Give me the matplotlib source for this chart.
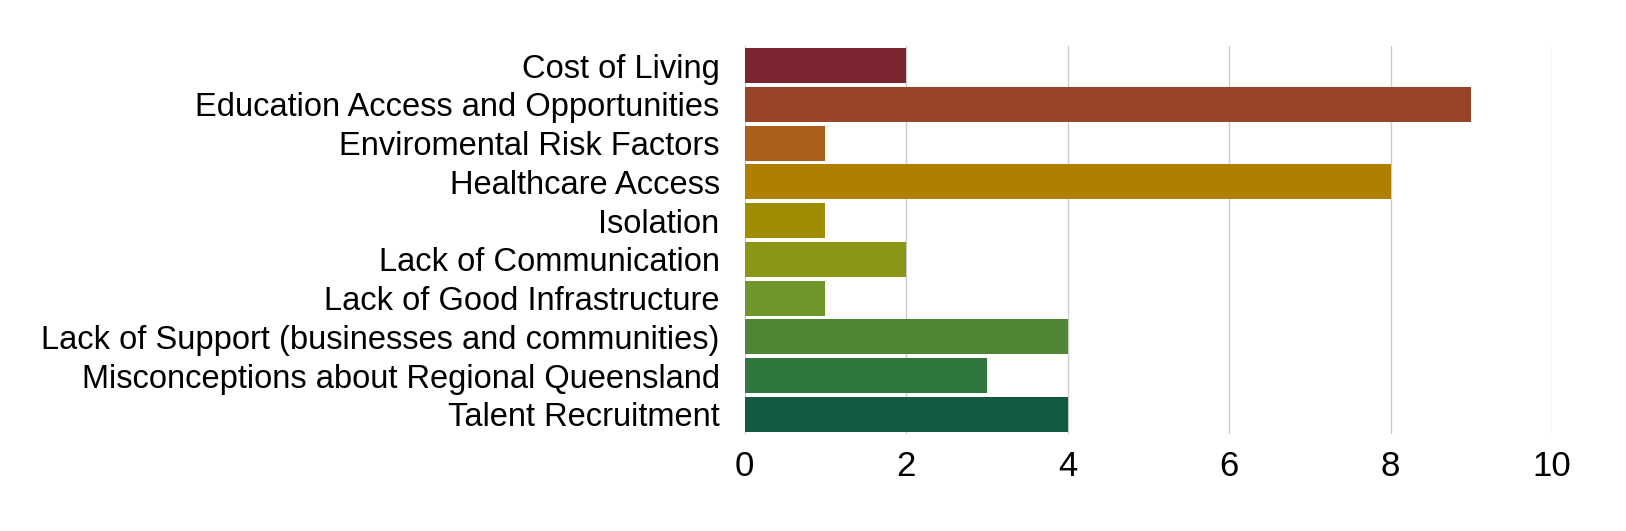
import matplotlib.pyplot as plt

categories = [
    'Cost of Living',
    'Education Access and Opportunities',
    'Enviromental Risk Factors',
    'Healthcare Access',
    'Isolation',
    'Lack of Communication',
    'Lack of Good Infrastructure',
    'Lack of Support (businesses and communities)',
    'Misconceptions about Regional Queensland',
    'Talent Recruitment',
]
counts = [2, 9, 1, 8, 1, 2, 1, 4, 3, 4]
bar_colors = ['#7A2530', '#99432A', '#AA5F1A', '#B07F00', '#A08C00',
              '#8B9616', '#6F952B', '#4E8636', '#2F773F', '#145942']
x_ticks = [0, 2, 4, 6, 8, 10]

plt.rcParams['font.family'] = ['Liberation Sans', 'DejaVu Sans']

fig = plt.figure(figsize=(16.26, 5.31), dpi=100)
ax = fig.add_axes([0.458, 0.183, 0.4965, 0.730])

y = list(range(len(categories)))
ax.barh(y, counts, height=0.9, color=bar_colors, zorder=3)
ax.set_yticks(y)
ax.set_yticklabels(categories, fontsize=23.5)
ax.set_ylim(len(categories) - 0.5, -0.5)
ax.set_xlim(0, 10)
ax.set_xticks(x_ticks)
ax.set_xticklabels([str(t) for t in x_ticks], fontsize=25)
ax.grid(axis='x', color='#CCCCCC', linewidth=1, zorder=0)
for s in ax.spines.values():
    s.set_visible(False)
ax.tick_params(length=0)
ax.tick_params(axis='y', pad=18)
ax.tick_params(axis='x', pad=12)

fig.savefig('out.png', dpi=100)
